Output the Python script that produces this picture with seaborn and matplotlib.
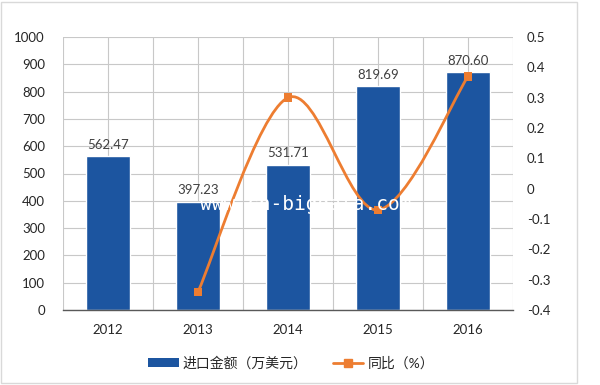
import matplotlib
matplotlib.use("Agg")
import matplotlib.pyplot as plt
import seaborn as sns
import numpy as np
from matplotlib.path import Path
from matplotlib.patches import PathPatch, Patch, Rectangle
from matplotlib.lines import Line2D
from matplotlib.ticker import MultipleLocator, FixedLocator

# --- data ---
years = ["2012", "2013", "2014", "2015", "2016"]
amounts = [562.47, 397.23, 531.71, 819.69, 870.60]
yoy_years = ["2013", "2014", "2015", "2016"]
yoy = [-0.34, 0.30, -0.07, 0.37]

bar_color = "#1C55A0"
line_color = "#ED7D31"
text_color = "#262626"

sns.set_style("white")
plt.rcParams["font.family"] = ["Lato", "Noto Sans CJK SC", "DejaVu Sans"]

fig = plt.figure(figsize=(6, 3.85), dpi=100)
ax = fig.add_axes([63 / 600, 1 - 310 / 385, 450 / 600, 273 / 385])

sns.barplot(x=years, y=amounts, color=bar_color, saturation=1, width=0.49, ax=ax, zorder=2)
ax.bar_label(ax.containers[0], fmt="%.2f", padding=4, color="#404040", fontsize=9.5)

ax.set_xlim(-0.5, 4.5)
ax.set_ylim(0, 1000)
ax.yaxis.set_major_locator(MultipleLocator(100))
ax.xaxis.set_minor_locator(FixedLocator(np.arange(-0.5, 5, 1)))
ax.grid(True, which="both", color="#C8C8C8", linewidth=0.8, zorder=0)
ax.set_axisbelow(True)
for s in ["top", "left", "right"]:
    ax.spines[s].set_visible(False)
ax.spines["bottom"].set_color("#595959")
ax.spines["bottom"].set_linewidth(1)
ax.tick_params(axis="y", length=0, pad=13, labelsize=9.5, labelcolor=text_color)
ax.tick_params(axis="x", which="both", length=0, pad=10, labelsize=9.5, labelcolor=text_color)
ax.set_xlabel("")
ax.set_ylabel("")

# --- right axis: smoothed yoy line ---
ax2 = ax.twinx()
ax2.set_ylim(-0.4, 0.5)
rticks = np.round(np.arange(-0.4, 0.51, 0.1), 1) + 0.0
ax2.set_yticks(rticks)
ax2.set_yticklabels(["0" if abs(t) < 1e-9 else f"{t:g}" for t in rticks])
ax2.tick_params(axis="y", length=0, pad=10, labelsize=9.5, labelcolor=text_color)
for s in ax2.spines.values():
    s.set_visible(False)

xs = np.array([years.index(y) for y in yoy_years], dtype=float)
ys = np.array(yoy)
pts = np.column_stack([xs, ys])
verts = [pts[0]]
codes = [Path.MOVETO]
for i in range(len(pts) - 1):
    p0 = pts[i - 1] if i > 0 else pts[i]
    p1, p2 = pts[i], pts[i + 1]
    p3 = pts[i + 2] if i + 2 < len(pts) else pts[i + 1]
    verts += [p1 + (p2 - p0) / 6, p2 - (p3 - p1) / 6, p2]
    codes += [Path.CURVE4] * 3
ax2.add_patch(PathPatch(Path(verts, codes), facecolor="none", edgecolor=line_color, lw=2, zorder=3))
sns.scatterplot(x=xs, y=ys, marker="s", s=38, color=line_color, edgecolor="none", ax=ax2, zorder=4)

# watermark
fig.text(306 / 600, 1 - 205 / 385, "www.cn-bigdata.com", color="white", family="DejaVu Sans Mono",
         fontsize=14, ha="center", va="center", zorder=10)

# legend
handles = [
    Patch(facecolor=bar_color, edgecolor="none"),
    Line2D([0], [0], color=line_color, lw=2, marker="s", markersize=6),
]
fig.legend(handles, ["进口金额（万美元）", "同比（%）"], loc="center", bbox_to_anchor=(291 / 600, 1 - 363 / 385),
           ncol=2, frameon=False, fontsize=10, handlelength=2.2, handleheight=0.6, columnspacing=1.8,
           handletextpad=0.3, labelcolor=text_color)

# outer frame
fig.add_artist(Rectangle((1 / 600, 2 / 385), 576 / 600, 381 / 385, transform=fig.transFigure,
                         fill=False, edgecolor="#D9D9D9", lw=1))

fig.savefig("out.png", dpi=100)
